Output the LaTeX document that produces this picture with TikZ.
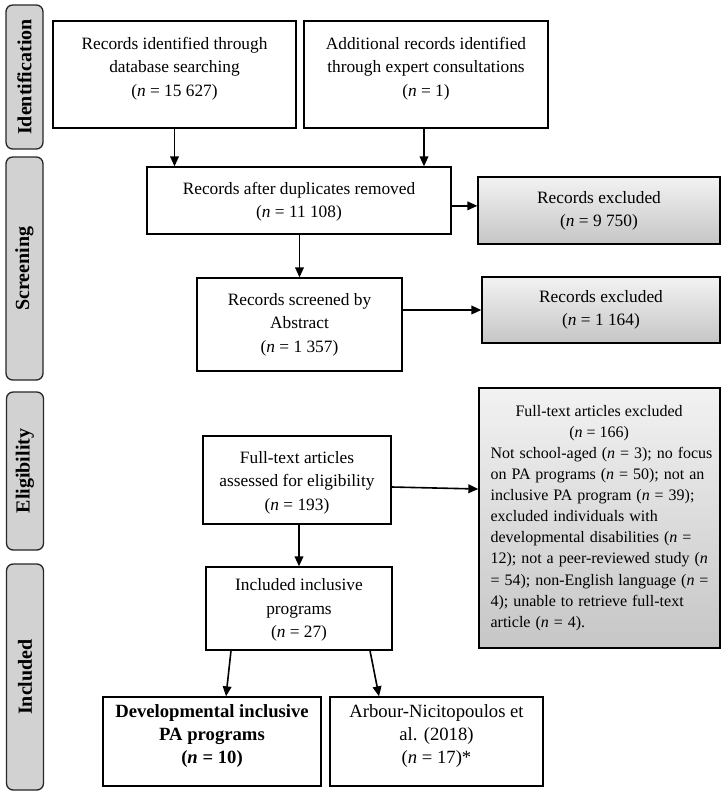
\documentclass[tikz,border=0pt]{standalone}
\usepackage{fontspec}
\setmainfont{Liberation Serif}
\usetikzlibrary{fit,arrows.meta}
\begin{document}
\begin{tikzpicture}[x=0.75pt,y=-0.75pt,
  box/.style={draw=black, line width=1pt, inner sep=0pt},
  excl/.style={box, top color=gray!10, bottom color=gray!45},
  txt/.style={align=center, inner sep=0pt, font=\fontsize{13}{17.5}\selectfont},
  bigtxt/.style={align=center, inner sep=0pt, font=\fontsize{14}{17.5}\selectfont},
  phase/.style={draw=black!85, fill=gray!35, rounded corners=5pt, line width=1pt,
    rotate=90, inner sep=0pt, minimum height=27.75pt,
    font=\fontsize{15}{17}\selectfont\bfseries},
  arr/.style={-{Triangle[length=7.5pt,width=6.5pt]}, line width=1.2pt}
]
\useasboundingbox (0,0) rectangle (725,797);

% phase labels
\node[phase, minimum width=108pt] (p1) at (24.5,77) {Identification};
\node[phase, minimum width=167.25pt] (p2) at (24.5,268.5) {Screening};
\node[phase, minimum width=118.5pt] (p3) at (25,471) {Eligibility};
\node[phase, minimum width=169.5pt] (p4) at (25,677) {Included};

% boxes
\node[box, fit={(53,21)(296,128)}] (A) {};
\node[txt] (At) at ([yshift=4.5pt]A.center) {Records identified through\\database searching\\(\textit{n} = 15 627)};
\node[box, fit={(304,21)(548,128)}] (B) {};
\node[txt] (Bt) at ([yshift=4.5pt]B.center) {Additional records identified\\through expert consultations\\(\textit{n} = 1)};
\node[box, fit={(147,167)(451,234)}] (C) {};
\node[txt] (Ct) at ([yshift=-1pt]C.center) {Records after duplicates removed\\(\textit{n} = 11 108)};
\node[box, fit={(197,278)(402,371)}] (D) {};
\node[txt] (Dt) at (D.center) {Records screened by\\Abstract\\(\textit{n} = 1 357)};
\node[box, fit={(203,436)(391,524)}] (E) {};
\node[txt] (Et) at ([yshift=-2pt]E.center) {Full-text articles\\assessed for eligibility\\(\textit{n} = 193)};
\node[box, fit={(206,567)(392,650)}] (F) {};
\node[txt] (Ft) at ([yshift=-1pt]F.center) {Included inclusive\\programs\\(\textit{n} = 27)};
\node[box, fit={(103,697)(321,786)}] (G) {};
\node[bigtxt, font=\fontsize{14}{17.5}\selectfont\bfseries] (Gt) at ([yshift=4pt]G.center) {Developmental inclusive\\PA programs\\(\textit{n} = 10)};
\node[box, fit={(330,697)(543,786)}] (H) {};
\node[bigtxt] (Ht) at ([yshift=4pt]H.center) {Arbour-Nicitopoulos et\\al. (2018)\\(\textit{n} = 17)*};

\node[excl, fit={(478,177)(720,244)}] (X1) {};
\node[txt] (X1t) at (X1.center) {Records excluded\\(\textit{n} = 9 750)};
\node[excl, fit={(482,277)(720,343)}] (X2) {};
\node[txt] (X2t) at (X2.center) {Records excluded\\(\textit{n} = 1 164)};
\node[excl, fit={(479,388)(720,648)}] (X3) {};
\node[inner sep=0pt, anchor=west] (X3t) at ([xshift=9pt]X3.west) {\parbox{162.75pt}{\fontsize{12}{15.8}\selectfont
{\centering Full-text articles excluded\\(\textit{n} = 166)\par}
\raggedright\spaceskip=0.31em
\mbox{Not school-aged (\textit{n} = 3); no focus}\\
\mbox{on PA programs (\textit{n} = 50); not an}\\
\mbox{inclusive PA program (\textit{n} = 39);}\\
\mbox{excluded individuals with}\\
\mbox{developmental disabilities (\textit{n} =}\\
\mbox{12); not a peer-reviewed study (\textit{n}}\\
\mbox{= 54); non-English language (\textit{n} =}\\
\mbox{4); unable to retrieve full-text}\\
\mbox{article (\textit{n} = 4).}}};

% arrows
\draw[arr] (A.south) -- (A.south |- C.north);
\draw[arr] ([xshift=-1.5pt]B.south) -- ([xshift=-1.5pt]B.south |- C.north);
\draw[arr] ([yshift=-4pt]C.east) -- ([yshift=-4pt]C.east -| X1.west);
\draw[arr] (D.north |- C.south) -- (D.north);
\draw[arr] (D.east |- X2.west) -- (X2.west);
\draw[arr] ([yshift=-5.25pt]E.east) -- ([yshift=-6.75pt]E.east -| X3.west);
\draw[arr] ([xshift=1.5pt]E.south) -- ([xshift=1.5pt]E.south |- F.north);
\draw[arr] ([xshift=-51pt]F.south) -- ([xshift=10.5pt]G.north);
\draw[arr] ([xshift=53.25pt]F.south) -- ([xshift=-43.1pt]H.north);
\end{tikzpicture}
\end{document}
